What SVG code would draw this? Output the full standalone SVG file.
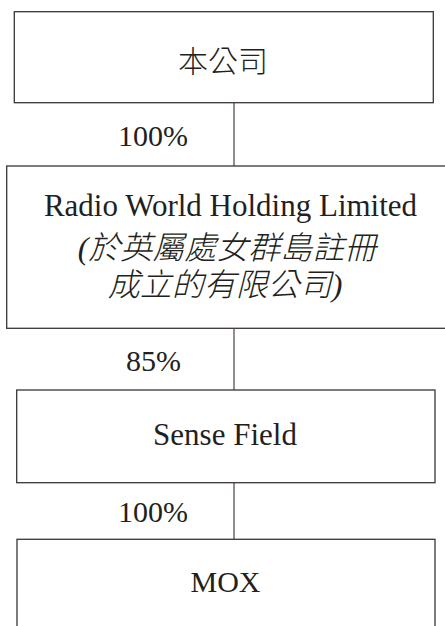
<svg xmlns="http://www.w3.org/2000/svg" width="445" height="626" viewBox="0 0 445 626">
<style>
.box{fill:#fff;stroke:#3c3535;stroke-width:1.3}
.ln{stroke:#5a5050;stroke-width:1.3;fill:none}
.t{font-family:"Liberation Serif","Times New Roman",serif;fill:#231f20;text-anchor:middle}
.c{font-family:"Noto Sans CJK TC","Noto Sans CJK SC",sans-serif;fill:#231f20;text-anchor:middle}
.ci{font-family:"Liberation Serif","Noto Sans CJK TC","Noto Sans CJK SC",serif;font-style:italic;fill:#231f20;text-anchor:middle}
</style>
<rect width="445" height="626" fill="#fff"/>
<g id="connectors">
<line class="ln" x1="234" y1="103" x2="234" y2="166"/>
<line class="ln" x1="234" y1="329" x2="234" y2="390"/>
<line class="ln" x1="234" y1="483" x2="234" y2="539"/>
<text class="t" x="153" y="146" font-size="30">100%</text>
<text class="t" x="153.5" y="371" font-size="30">85%</text>
<text class="t" x="153" y="522" font-size="30">100%</text>
</g>
<g id="company">
<rect class="box" x="14.3" y="11.7" width="419" height="91"/>
<text class="c" x="223" y="72" font-size="30" font-weight="300">本公司</text>
</g>
<g id="radio-world">
<rect class="box" x="6.7" y="166" width="440" height="162.3"/>
<text class="t" x="230.5" y="216" font-size="31">Radio World Holding Limited</text>
<text class="ci" x="227" y="259" font-size="32" font-weight="300">(於英屬處女群島註冊</text>
<text class="ci" x="225" y="296" font-size="32" font-weight="300">成立的有限公司)</text>
</g>
<g id="sense-field">
<rect class="box" x="16.7" y="390" width="418.3" height="92.7"/>
<text class="t" x="225" y="445" font-size="31">Sense Field</text>
</g>
<g id="mox">
<rect class="box" x="17" y="539.3" width="418" height="100"/>
<text class="t" x="225.5" y="592" font-size="30">MOX</text>
</g>
</svg>
